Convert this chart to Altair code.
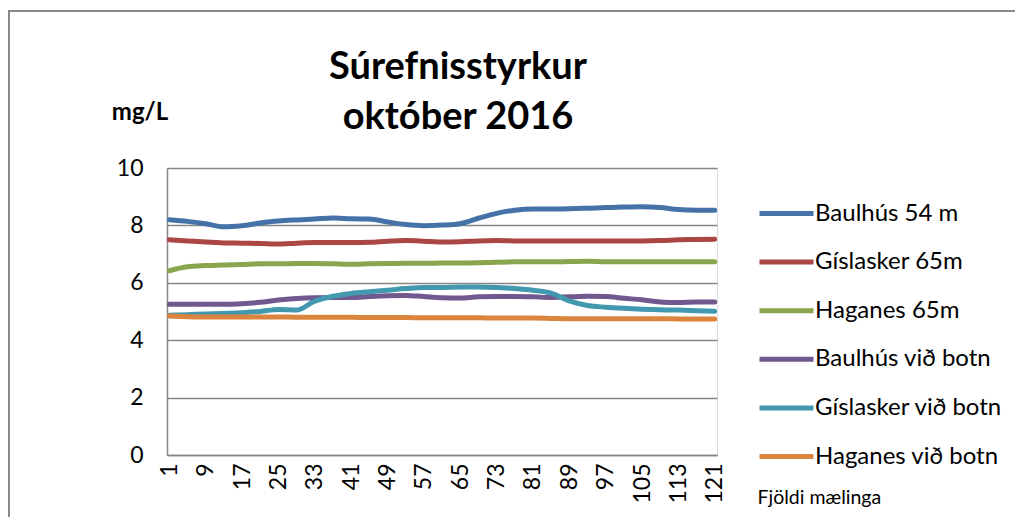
import altair as alt
import pandas as pd

x_idx = [1, 5, 9, 13, 17, 21, 25, 29, 33, 37, 41, 45, 49, 53, 57, 61,
         65, 69, 73, 77, 81, 85, 89, 93, 97, 101, 105, 109, 113, 117, 121]

series_names = ["Baulhús 54 m", "Gíslasker 65m", "Haganes 65m",
                "Baulhús við botn", "Gíslasker við botn", "Haganes við botn"]

baulhus_54 = [8.20, 8.14, 8.06, 7.95, 7.99, 8.08, 8.15, 8.19, 8.22, 8.26, 8.23, 8.22, 8.12, 8.03, 7.99, 8.01,
              8.06, 8.25, 8.42, 8.53, 8.57, 8.57, 8.58, 8.60, 8.62, 8.64, 8.65, 8.62, 8.55, 8.53, 8.53]
gislasker_65 = [7.50, 7.46, 7.42, 7.39, 7.38, 7.37, 7.35, 7.38, 7.40, 7.40, 7.40, 7.41, 7.45, 7.47, 7.45, 7.42,
                7.43, 7.46, 7.47, 7.46, 7.46, 7.46, 7.46, 7.46, 7.46, 7.46, 7.46, 7.47, 7.50, 7.51, 7.52]
haganes_65 = [6.42, 6.56, 6.60, 6.62, 6.64, 6.66, 6.66, 6.67, 6.67, 6.66, 6.65, 6.66, 6.67, 6.68, 6.68, 6.69,
              6.69, 6.70, 6.72, 6.73, 6.73, 6.73, 6.74, 6.75, 6.73, 6.73, 6.73, 6.73, 6.73, 6.73, 6.73]
baulhus_botn = [5.25, 5.25, 5.25, 5.25, 5.27, 5.32, 5.40, 5.45, 5.48, 5.49, 5.49, 5.52, 5.55, 5.56, 5.52, 5.48,
                5.47, 5.51, 5.52, 5.52, 5.51, 5.49, 5.51, 5.53, 5.52, 5.46, 5.41, 5.33, 5.31, 5.33, 5.33]
gislasker_botn = [4.87, 4.89, 4.91, 4.93, 4.96, 5.00, 5.07, 5.05, 5.36, 5.53, 5.63, 5.69, 5.74, 5.80, 5.84, 5.84,
                  5.85, 5.85, 5.84, 5.80, 5.74, 5.64, 5.37, 5.21, 5.15, 5.11, 5.08, 5.06, 5.05, 5.03, 5.01]
haganes_botn = [4.84, 4.82, 4.81, 4.81, 4.81, 4.81, 4.81, 4.80, 4.80, 4.80, 4.80, 4.79, 4.79, 4.79, 4.78, 4.78,
                4.78, 4.78, 4.77, 4.77, 4.77, 4.76, 4.75, 4.75, 4.75, 4.75, 4.75, 4.75, 4.74, 4.74, 4.74]

all_series = [baulhus_54, gislasker_65, haganes_65, baulhus_botn, gislasker_botn, haganes_botn]
colors = ["#4572A7", "#AA4643", "#89A54E", "#71588F", "#4198AF", "#DB843D"]
x_ticks = [1, 9, 17, 25, 33, 41, 49, 57, 65, 73, 81, 89, 97, 105, 113, 121]
y_ticks = [0, 2, 4, 6, 8, 10]

rows = []
for name, vals in zip(series_names, all_series):
    for xi, v in zip(x_idx, vals):
        rows.append({"x": xi, "value": v, "series": name})
df = pd.DataFrame(rows)

FONT = "Lato"
GRID = "#868686"

lines = alt.Chart(df).mark_line(
    strokeWidth=5, strokeCap="round", strokeJoin="round", interpolate="monotone"
).encode(
    x=alt.X("x:Q",
            scale=alt.Scale(domain=[0.5, 121.5], nice=False, zero=False),
            axis=alt.Axis(values=x_ticks, labelAngle=270, grid=False, ticks=False,
                          domainColor=GRID, domainWidth=1.5,
                          labelFont=FONT, labelFontSize=23, labelColor="black", labelPadding=8,
                          title="Fjöldi mælinga", titleX=590, titleY=48, titleAlign="left",
                          titleBaseline="alphabetic", titleFont=FONT, titleFontSize=19.5,
                          titleFontWeight="normal", titleColor="black")),
    y=alt.Y("value:Q",
            scale=alt.Scale(domain=[0, 10], nice=False),
            axis=alt.Axis(values=y_ticks, grid=True, gridColor=GRID, gridWidth=1.5,
                          ticks=False, domainColor=GRID, domainWidth=1.5,
                          labelFont=FONT, labelFontSize=23, labelColor="black", labelPadding=24,
                          title=None)),
    color=alt.Color("series:N", sort=series_names,
                    scale=alt.Scale(domain=series_names, range=colors),
                    legend=alt.Legend(orient="none", legendX=590, legendY=29.5, title=None,
                                      symbolType="M-1,0H3", symbolSize=729, symbolStrokeWidth=5,
                                      labelFont=FONT, labelFontSize=24, labelColor="black",
                                      labelOffset=26, rowPadding=20.6, padding=0, labelLimit=300)),
)

unit = alt.Data(values=[{"k": 1}])
ylabel = alt.Chart(unit).mark_text(
    text="mg/L", font=FONT, fontSize=24, fontWeight="bold", color="black",
    align="center", baseline="alphabetic"
).encode(x=alt.value(-27), y=alt.value(-48))

border_top = alt.Chart(unit).mark_rule(color="#888888", strokeWidth=2).encode(
    x=alt.value(-158), x2=alt.value(848), y=alt.value(-157))
border_left = alt.Chart(unit).mark_rule(color="#888888", strokeWidth=2).encode(
    x=alt.value(-158), y=alt.value(-158), y2=alt.value(350))

chart = alt.layer(border_top, border_left, ylabel, lines).properties(
    width=550, height=287,
    autosize=alt.AutoSizeParams(type="none"),
    padding={"left": 159, "top": 160, "right": 298, "bottom": 62},
    title=alt.TitleParams(text=["Súrefnisstyrkur", "október 2016"], font=FONT, fontSize=38,
                          fontWeight="bold", color="black", anchor="middle", frame="group",
                          dx=16, dy=128, lineHeight=50, offset=0),
).configure_view(stroke="transparent").configure(background="white")

chart.save("out.html", embed_options={"renderer": "svg", "actions": False})
